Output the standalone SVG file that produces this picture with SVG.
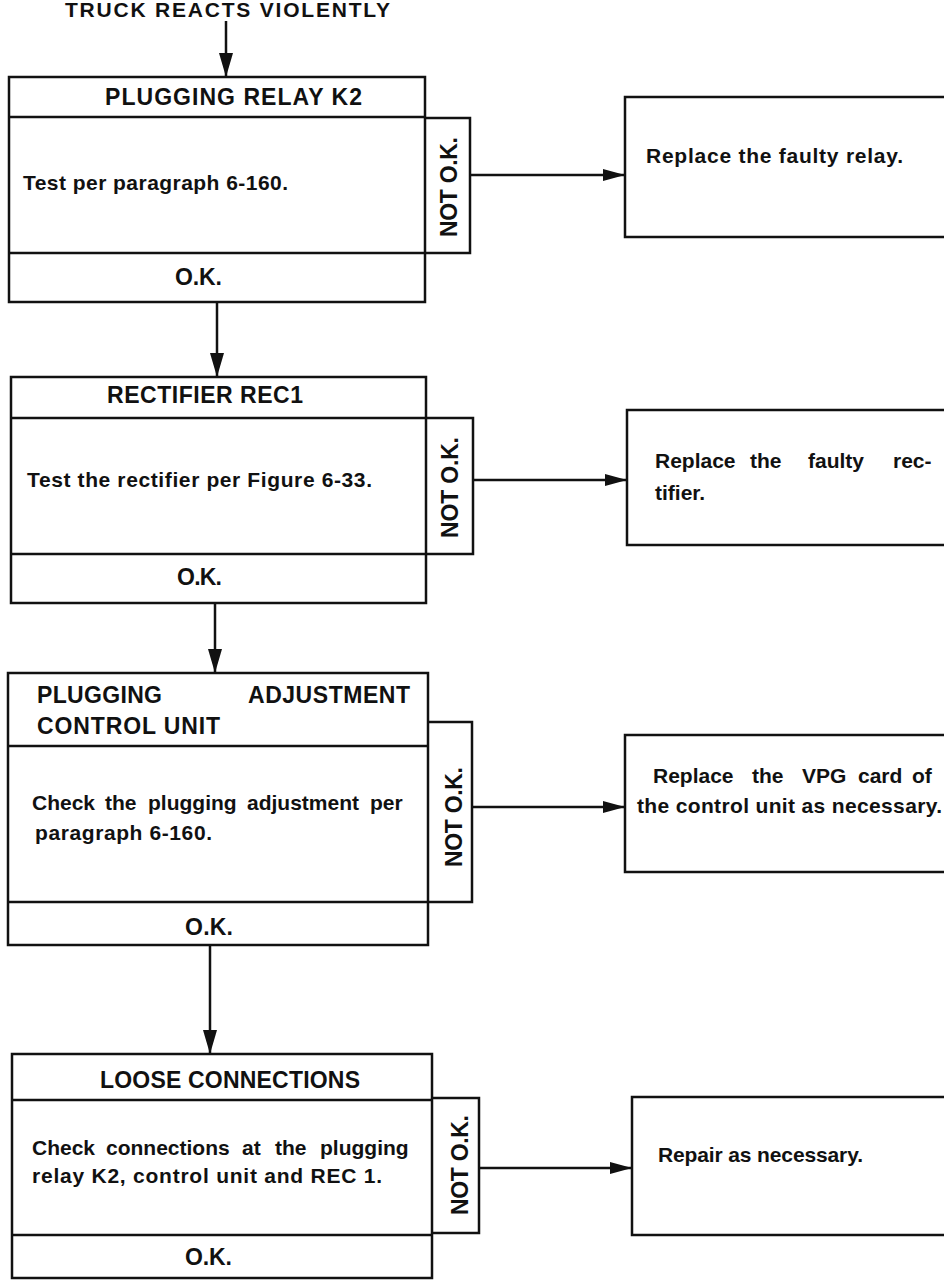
<svg xmlns="http://www.w3.org/2000/svg" width="944" height="1282" viewBox="0 0 944 1282">
<style>
.box{fill:none;stroke:#111;stroke-width:2.5;stroke-linejoin:miter}
.ln{fill:none;stroke:#111;stroke-width:2.5}
text{font-family:"Liberation Sans",Arial,sans-serif;font-weight:bold;fill:#111}
.h{font-size:23px}
.b{font-size:21px}
.n{font-size:23px}
.t{font-size:21px}
</style>
<defs>
<marker id="ah" markerWidth="22" markerHeight="12" refX="22" refY="6" orient="auto" markerUnits="userSpaceOnUse">
<path d="M0,0 L22,6 L0,12 Z" fill="#111"/>
</marker>
<marker id="ahv" markerWidth="24" markerHeight="14" refX="24" refY="7" orient="auto" markerUnits="userSpaceOnUse">
<path d="M0,0 L24,7 L0,14 Z" fill="#111"/>
</marker>
</defs>
<rect width="944" height="1282" fill="#fff"/>

<text class="t" x="65" y="17" textLength="325" lengthAdjust="spacing">TRUCK REACTS VIOLENTLY</text>

<g id="connectors">
<line class="ln" x1="226" y1="21" x2="226" y2="77" marker-end="url(#ahv)"/>
<line class="ln" x1="217" y1="302" x2="217" y2="377" marker-end="url(#ahv)"/>
<line class="ln" x1="215" y1="603" x2="215" y2="673" marker-end="url(#ahv)"/>
<line class="ln" x1="210" y1="945" x2="210" y2="1054" marker-end="url(#ahv)"/>
<line class="ln" x1="470" y1="175" x2="625" y2="175" marker-end="url(#ah)"/>
<line class="ln" x1="473" y1="480" x2="627" y2="480" marker-end="url(#ah)"/>
<line class="ln" x1="472" y1="807" x2="625" y2="807" marker-end="url(#ah)"/>
<line class="ln" x1="479" y1="1168" x2="632" y2="1168" marker-end="url(#ah)"/>
</g>

<g id="k2">
<rect class="box" x="9" y="77" width="416" height="225"/>
<line class="ln" x1="9" y1="117" x2="425" y2="117"/>
<line class="ln" x1="9" y1="253" x2="425" y2="253"/>
<path class="box" d="M425,118 H470 V253 H425"/>
<text class="h" x="105" y="105" textLength="257" lengthAdjust="spacing">PLUGGING RELAY K2</text>
<text class="b" x="23" y="190" textLength="265" lengthAdjust="spacing">Test per paragraph 6-160.</text>
<text class="h" x="175" y="285" textLength="47" lengthAdjust="spacing">O.K.</text>
<text class="n" transform="translate(457,237) rotate(-90)" textLength="100" lengthAdjust="spacing">NOT O.K.</text>
</g>

<g id="r1">
<path class="box" d="M950,97 H625 V237 H950"/>
<text class="b" x="646" y="163" textLength="257" lengthAdjust="spacing">Replace the faulty relay.</text>
</g>

<g id="rec1">
<rect class="box" x="11" y="377" width="415" height="226"/>
<line class="ln" x1="11" y1="418" x2="426" y2="418"/>
<line class="ln" x1="11" y1="554" x2="426" y2="554"/>
<path class="box" d="M426,418 H473 V554 H426"/>
<text class="h" x="107" y="403" textLength="196" lengthAdjust="spacing">RECTIFIER REC1</text>
<text class="b" x="27" y="487" textLength="345" lengthAdjust="spacing">Test the rectifier per Figure 6-33.</text>
<text class="h" x="177" y="585" textLength="45" lengthAdjust="spacing">O.K.</text>
<text class="n" transform="translate(458,538) rotate(-90)" textLength="101" lengthAdjust="spacing">NOT O.K.</text>
</g>

<g id="r2">
<path class="box" d="M950,410 H627 V545 H950"/>
<text class="b" y="468"><tspan x="655">Replace</tspan><tspan x="750">the</tspan><tspan x="808">faulty</tspan><tspan x="893">rec-</tspan></text>
<text class="b" x="655" y="500">tifier.</text>
</g>

<g id="cu">
<rect class="box" x="8" y="673" width="420" height="272"/>
<line class="ln" x1="8" y1="746" x2="428" y2="746"/>
<line class="ln" x1="8" y1="902" x2="428" y2="902"/>
<path class="box" d="M428,722 H472 V902 H428"/>
<text class="h" x="37" y="703" textLength="125" lengthAdjust="spacing">PLUGGING</text>
<text class="h" x="248" y="703" textLength="162" lengthAdjust="spacing">ADJUSTMENT</text>
<text class="h" x="37" y="734" textLength="183" lengthAdjust="spacing">CONTROL UNIT</text>
<text class="b" y="810"><tspan x="32">Check</tspan><tspan x="105">the</tspan><tspan x="148">plugging</tspan><tspan x="247">adjustment</tspan><tspan x="370">per</tspan></text>
<text class="b" x="35" y="840" textLength="177" lengthAdjust="spacing">paragraph 6-160.</text>
<text class="h" x="185" y="935" textLength="48" lengthAdjust="spacing">O.K.</text>
<text class="n" transform="translate(462,867) rotate(-90)" textLength="100" lengthAdjust="spacing">NOT O.K.</text>
</g>

<g id="r3">
<path class="box" d="M950,735 H625 V872 H950"/>
<text class="b" y="783"><tspan x="653">Replace</tspan><tspan x="752">the</tspan><tspan x="802">VPG</tspan><tspan x="858">card</tspan><tspan x="912">of</tspan></text>
<text class="b" x="637" y="813" textLength="305" lengthAdjust="spacing">the control unit as necessary.</text>
</g>

<g id="loose">
<rect class="box" x="12" y="1054" width="420" height="224"/>
<line class="ln" x1="12" y1="1100" x2="432" y2="1100"/>
<line class="ln" x1="12" y1="1235" x2="432" y2="1235"/>
<path class="box" d="M432,1098 H479 V1233 H432"/>
<text class="h" x="100" y="1088" textLength="260" lengthAdjust="spacing">LOOSE CONNECTIONS</text>
<text class="b" y="1155"><tspan x="32">Check</tspan><tspan x="106">connections</tspan><tspan x="242">at</tspan><tspan x="275">the</tspan><tspan x="320">plugging</tspan></text>
<text class="b" x="32" y="1183" textLength="350" lengthAdjust="spacing">relay K2, control unit and REC 1.</text>
<text class="h" x="185" y="1265" textLength="47" lengthAdjust="spacing">O.K.</text>
<text class="n" transform="translate(468,1215) rotate(-90)" textLength="100" lengthAdjust="spacing">NOT O.K.</text>
</g>

<g id="r4">
<path class="box" d="M950,1097 H632 V1235 H950"/>
<text class="b" x="658" y="1162" textLength="205" lengthAdjust="spacing">Repair as necessary.</text>
</g>
</svg>
